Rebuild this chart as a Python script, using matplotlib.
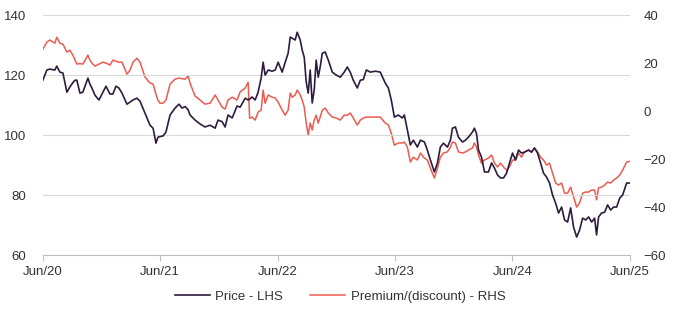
import matplotlib
matplotlib.use("Agg")
import matplotlib.pyplot as plt
import matplotlib.dates as mdates
import pandas as pd
import numpy as np

# years elapsed since end of June 2020
years = [0.000, 0.034, 0.060, 0.102, 0.119, 0.145, 0.171, 0.205, 0.230, 0.256,
         0.273, 0.290, 0.316, 0.341, 0.384, 0.401, 0.418, 0.444, 0.478, 0.512,
         0.538, 0.572, 0.597, 0.623, 0.648, 0.674, 0.717, 0.742, 0.768, 0.802,
         0.828, 0.870, 0.913, 0.939, 0.964, 0.981, 0.998, 1.024, 1.049, 1.084,
         1.126, 1.160, 1.186, 1.212, 1.237, 1.254, 1.297, 1.340, 1.382, 1.425,
         1.468, 1.493, 1.527, 1.553, 1.578, 1.613, 1.655, 1.681, 1.724, 1.749,
         1.762, 1.783, 1.809, 1.834, 1.860, 1.877, 1.894, 1.920, 1.954, 1.980,
         2.005, 2.039, 2.065, 2.090, 2.108, 2.125, 2.150, 2.167, 2.193, 2.210,
         2.227, 2.244, 2.261, 2.278, 2.295, 2.312, 2.329, 2.346, 2.363, 2.381,
         2.406, 2.432, 2.466, 2.500, 2.534, 2.568, 2.594, 2.619, 2.645, 2.679,
         2.705, 2.730, 2.756, 2.790, 2.833, 2.875, 2.918, 2.944, 2.969, 2.995,
         3.029, 3.063, 3.080, 3.106, 3.131, 3.157, 3.191, 3.217, 3.251, 3.276,
         3.302, 3.336, 3.362, 3.387, 3.413, 3.447, 3.473, 3.490, 3.515, 3.541,
         3.575, 3.601, 3.626, 3.660, 3.677, 3.695, 3.712, 3.737, 3.763, 3.797,
         3.823, 3.848, 3.874, 3.899, 3.925, 3.951, 3.976, 4.002, 4.027, 4.053,
         4.078, 4.104, 4.138, 4.164, 4.189, 4.215, 4.241, 4.266, 4.292, 4.317,
         4.343, 4.369, 4.394, 4.420, 4.445, 4.471, 4.497, 4.522, 4.548, 4.573,
         4.599, 4.625, 4.650, 4.676, 4.701, 4.718, 4.735, 4.761, 4.787, 4.812,
         4.838, 4.863, 4.889, 4.915, 4.940, 4.974, 5.000]

price = [118.3, 121.7, 122.0, 121.7, 123.0, 121.0, 120.7, 114.3, 116.0, 117.5,
         118.3, 118.3, 114.0, 114.3, 119.0, 117.0, 115.7, 113.3, 111.7, 114.3,
         116.3, 113.7, 113.7, 116.3, 115.7, 114.0, 110.3, 111.0, 111.7, 112.3,
         111.3, 107.3, 103.3, 102.3, 97.3, 99.3, 99.5, 99.7, 101.0, 106.7,
         109.0, 110.3, 109.0, 109.5, 108.5, 106.7, 105.0, 103.7, 102.7, 103.3,
         102.3, 105.0, 104.5, 102.7, 106.7, 105.7, 109.7, 109.3, 112.3, 111.7,
         112.0, 112.7, 111.7, 114.3, 119.0, 124.3, 120.0, 121.7, 121.3, 121.7,
         124.3, 121.0, 124.3, 127.3, 132.7, 132.3, 131.7, 134.3, 131.7, 128.3,
         126.0, 117.7, 114.0, 121.7, 110.7, 115.0, 125.0, 119.3, 122.7, 127.3,
         127.7, 125.0, 121.0, 120.0, 119.3, 121.0, 122.7, 121.0, 118.3, 115.7,
         118.3, 118.5, 121.7, 121.0, 121.3, 121.0, 117.3, 115.7, 111.7, 106.0,
         106.7, 105.7, 106.7, 101.7, 96.7, 98.3, 96.0, 98.3, 97.7, 95.0,
         91.7, 87.7, 90.7, 96.0, 97.3, 96.0, 98.3, 102.3, 102.7, 99.3,
         97.7, 98.3, 99.3, 101.0, 102.3, 100.5, 95.0, 92.7, 87.7, 87.7,
         90.7, 89.0, 86.7, 85.7, 85.7, 87.3, 90.7, 94.0, 91.7, 95.0,
         94.0, 94.3, 95.0, 94.3, 95.7, 94.0, 90.7, 87.3, 86.0, 84.0,
         80.0, 77.3, 74.0, 76.0, 71.7, 71.0, 75.7, 69.3, 66.0, 68.3,
         72.3, 71.7, 72.7, 71.0, 72.3, 66.7, 72.7, 74.0, 74.3, 76.7,
         75.0, 76.0, 76.0, 79.0, 80.0, 84.0, 84.0]

premium = [25.8, 28.75, 29.6, 28.3, 30.8, 28.3, 27.9, 24.6, 25.4, 23.3,
           21.5, 19.6, 19.8, 19.6, 23.3, 21.25, 20.0, 18.75, 19.6, 20.4,
           20.0, 19.2, 21.25, 20.8, 20.4, 20.4, 15.4, 17.0, 20.4, 22.0,
           20.4, 14.2, 11.7, 11.3, 7.0, 4.5, 3.3, 3.3, 4.6, 11.25,
           13.3, 13.75, 13.5, 13.3, 14.6, 11.7, 6.25, 4.6, 2.9, 3.3,
           6.7, 4.6, 1.7, 0.8, 4.6, 5.8, 4.6, 8.0, 9.6, 12.0,
           -3.0, -2.5, -3.75, -0.4, 0.4, 8.75, 3.3, 6.7, 5.8, 5.4,
           3.75, 0.4, -1.7, 0.4, 7.5, 5.8, 6.7, 8.75, 6.7, 4.6,
           1.7, -5.0, -10.0, -5.0, -7.9, -3.75, -1.7, -5.0, -2.5, 0.4,
           1.25, -0.8, -2.5, -2.9, -3.75, -1.7, -1.7, -0.8, -2.9, -5.8,
           -3.75, -2.9, -2.5, -2.5, -2.5, -2.5, -5.0, -5.8, -9.2, -14.2,
           -13.3, -13.3, -12.9, -15.0, -21.25, -19.2, -20.4, -17.5, -19.6, -20.4,
           -23.75, -27.9, -23.75, -19.2, -17.5, -17.0, -15.0, -12.9, -13.3, -17.0,
           -17.5, -17.0, -16.25, -15.4, -13.3, -15.0, -18.3, -21.7, -20.4, -19.6,
           -18.3, -21.7, -23.3, -21.7, -23.3, -24.6, -23.3, -20.4, -20.4, -17.5,
           -19.2, -17.0, -16.25, -17.0, -15.4, -17.0, -19.2, -20.4, -22.5, -21.7,
           -25.8, -30.0, -30.8, -30.0, -34.2, -34.2, -31.7, -35.8, -40.0, -38.3,
           -34.2, -33.75, -33.75, -32.9, -32.9, -37.0, -32.0, -31.7, -30.8, -29.6,
           -30.0, -28.75, -27.9, -26.7, -24.6, -21.25, -21.0]

tick_labels = ["Jun/20", "Jun/21", "Jun/22", "Jun/23", "Jun/24", "Jun/25"]
left_ticks = [60, 80, 100, 120, 140]
right_ticks = [-60, -40, -20, 0, 20, 40]

start = pd.Timestamp("2020-06-30")
dates = [start + pd.Timedelta(days=t * 365.25) for t in years]
tick_dates = [start + pd.Timedelta(days=i * 365.25) for i in range(len(tick_labels))]

plt.rcParams["font.family"] = ["Liberation Sans", "DejaVu Sans"]

price_color = "#2e1c3f"
prem_color = "#ec5b4f"
text_color = "#333333"

fig = plt.figure(figsize=(6.8, 3.22), dpi=100)
ax = fig.add_axes([0.063, 0.208, 0.863, 0.745])
ax2 = ax.twinx()

ax.set_zorder(ax2.get_zorder() + 1)
ax.patch.set_visible(False)

l2, = ax2.plot(dates, premium, color=prem_color, lw=1.1, label="Premium/(discount) - RHS")
l1, = ax.plot(dates, price, color=price_color, lw=1.2, label="Price - LHS")

ax.set_ylim(60, 140)
ax.set_yticks(left_ticks)
ax2.set_ylim(-60, 40)
ax2.set_yticks(right_ticks)
ax.set_xlim(dates[0], tick_dates[-1])
ax.set_xticks(tick_dates)
ax.set_xticklabels(tick_labels)

ax.grid(axis="y", color="#d9d9d9", lw=0.8)
ax.set_axisbelow(True)

for a in (ax, ax2):
    for s in ("top", "right", "left"):
        a.spines[s].set_visible(False)
    a.spines["bottom"].set_color("#bfbfbf")
ax2.spines["bottom"].set_visible(False)

ax.tick_params(axis="y", length=0, labelsize=9.5, labelcolor=text_color, pad=12)
ax2.tick_params(axis="y", length=0, labelsize=9.5, labelcolor=text_color, pad=10)
ax.tick_params(axis="x", length=4, color="#bfbfbf", labelsize=9.5, labelcolor=text_color, pad=4)

fig.legend(handles=[l1, l2], loc="center", bbox_to_anchor=(0.5, 0.078), ncol=2,
           frameon=False, fontsize=9.5, handlelength=2.7, columnspacing=2.0,
           handletextpad=0.4, labelcolor=text_color)

fig.savefig("out.png", dpi=100)
